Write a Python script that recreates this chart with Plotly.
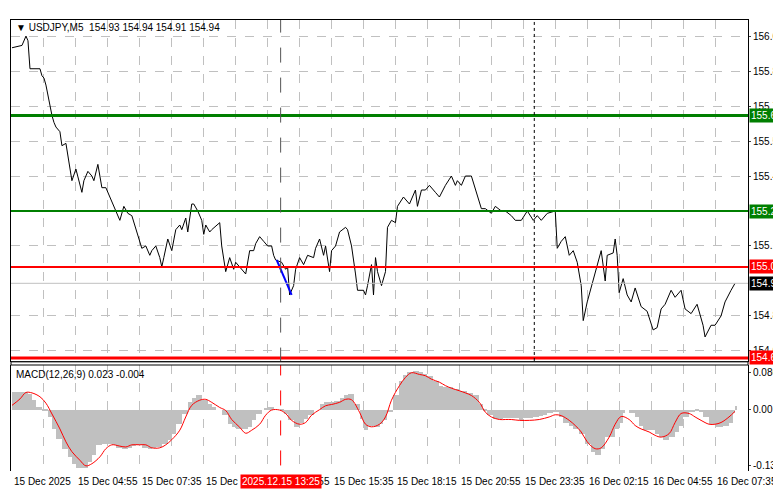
import numpy as np
import plotly.graph_objects as go

# ---- data ----
price_bar = [0,4,5,7,8,9,14,15,16,17,19,20,21,22,24,25,27,29,30,32,33,35,36,38,40,41,43,45,47,50,52,54,56,58,60,64,65,67,69,70,72,74,75,76,78,80,82,84,85,87,88,90,91,93,95,96,97,99,100,104,105,107,109,111,112,114,117,119,121,122,124,126,128,130,131,132,135,137,138,139,141,142,144,146,148,151,152,154,156,157,159,160,162,164,167,168,170,172,173,176,177,178,180,181,182,183,185,187,188,190,192,193,196,199,202,203,205,207,209,212,214,217,220,222,223,225,227,230,232,235,237,240,242,245,247,250,252,255,258,261,263,265,268,272,273,275,277,279,281,283,285,286,288,291,293,295,297,298,301,302,303,304,306,308,310,312,315,318,321,323,325,327,330,332,335,337,340,343,346,347,350,352,355,357,360,362]
price_val = [155.95,155.96,155.96,156.00,155.98,155.86,155.86,155.83,155.82,155.79,155.70,155.66,155.63,155.61,155.59,155.53,155.54,155.43,155.38,155.43,155.40,155.33,155.38,155.42,155.40,155.38,155.45,155.35,155.35,155.29,155.25,155.21,155.27,155.24,155.23,155.12,155.09,155.10,155.06,155.08,155.10,155.05,155.01,155.05,155.13,155.08,155.17,155.19,155.17,155.22,155.16,155.28,155.28,155.25,155.21,155.15,155.19,155.16,155.17,155.20,155.10,154.99,155.05,155.00,155.03,155.01,154.98,155.08,155.08,155.11,155.14,155.12,155.10,155.10,155.06,155.04,155.03,155.00,155.01,154.89,154.93,155.00,155.05,155.02,155.06,155.05,155.09,155.13,155.06,155.10,154.99,155.08,155.10,155.16,155.18,155.17,155.10,154.98,154.91,154.91,154.89,154.93,155.02,154.89,155.05,154.99,154.93,154.99,155.18,155.21,155.20,155.27,155.31,155.28,155.34,155.27,155.34,155.34,155.36,155.33,155.31,155.36,155.40,155.36,155.38,155.36,155.40,155.40,155.34,155.26,155.26,155.24,155.27,155.25,155.25,155.23,155.21,155.21,155.25,155.21,155.23,155.21,155.24,155.25,155.09,155.12,155.14,155.06,155.08,155.03,154.93,154.78,154.86,154.95,155.01,155.08,154.95,155.06,155.07,155.13,155.06,154.90,154.96,154.89,154.86,154.92,154.84,154.82,154.74,154.75,154.83,154.85,154.91,154.88,154.91,154.83,154.81,154.85,154.76,154.71,154.76,154.76,154.80,154.86,154.91,154.94]

hist_bar = [0,2,5,8,10,12,15,18,20,22,25,28,30,32,35,38,40,42,45,48,50,52,55,58,60,62,65,68,70,72,75,78,80,82,85,88,90,92,95,98,100,102,105,108,110,112,115,118,120,122,125,126,128,131,134,136,138,141,144,146,148,151,154,156,158,161,164,166,168,171,174,176,178,181,184,186,188,191,194,196,198,201,204,206,208,211,214,216,218,221,224,226,228,231,234,236,238,241,244,246,248,251,254,256,258,261,264,266,268,271,274,276,279,281,284,287,290,292,295,297,302,304,306,307,309,312,314,316,319,322,324,326,329,332,334,336,339,342,344,346,349,352,354,356,359,361,362]
hist_val = [0.040,0.041,0.042,0.036,0.022,0.005,-0.002,-0.018,-0.045,-0.068,-0.091,-0.110,-0.126,-0.137,-0.137,-0.121,-0.105,-0.082,-0.080,-0.080,-0.082,-0.089,-0.091,-0.089,-0.085,-0.082,-0.089,-0.092,-0.089,-0.087,-0.080,-0.070,-0.056,-0.034,-0.011,0.017,0.028,0.033,0.022,0.013,0.005,0.0,-0.013,-0.034,-0.041,-0.045,-0.045,-0.041,-0.025,-0.011,0.0,0.002,0.005,0.0,-0.002,-0.011,-0.025,-0.041,-0.030,-0.023,-0.013,0.0,0.013,0.017,0.017,0.019,0.026,0.035,0.036,0.013,-0.023,-0.048,-0.037,-0.041,-0.034,-0.025,-0.006,0.033,0.067,0.081,0.088,0.090,0.087,0.082,0.079,0.067,0.056,0.052,0.052,0.048,0.044,0.043,0.039,0.033,0.013,-0.002,-0.013,-0.023,-0.023,-0.020,-0.020,-0.020,-0.025,-0.020,-0.020,-0.017,-0.016,-0.013,-0.009,-0.006,-0.017,-0.030,-0.037,-0.045,-0.056,-0.080,-0.098,-0.106,-0.091,-0.064,-0.045,-0.030,-0.009,0.0,-0.009,-0.017,-0.037,-0.048,-0.048,-0.056,-0.064,-0.071,-0.064,-0.052,-0.037,-0.017,-0.006,-0.002,-0.006,-0.017,-0.034,-0.041,-0.041,-0.037,-0.030,-0.009,0.009,0.023]
hist_val = hist_val[:len(hist_bar)]

sig_bar = [0,4,7,10,14,17,20,24,27,30,34,37,40,44,47,50,54,57,60,64,67,70,74,77,80,84,87,90,94,97,100,104,107,110,114,117,120,124,127,130,134,137,140,144,147,150,154,157,160,164,167,170,174,177,180,184,187,190,194,197,200,204,207,210,214,217,220,224,227,230,234,237,240,244,247,250,254,259,264,269,272,275,279,282,285,288,292,295,299,302,305,309,312,315,319,322,325,329,332,335,339,342,345,349,352,355,359,362]
sig_val = [0.010,0.025,0.040,0.039,0.030,0.015,-0.010,-0.045,-0.075,-0.098,-0.118,-0.131,-0.126,-0.110,-0.091,-0.082,-0.085,-0.087,-0.082,-0.082,-0.082,-0.089,-0.089,-0.082,-0.070,-0.048,-0.017,0.010,0.022,0.024,0.017,0.005,-0.002,-0.023,-0.041,-0.055,-0.048,-0.034,-0.013,-0.001,-0.001,-0.009,-0.025,-0.034,-0.030,-0.013,0.0,0.009,0.012,0.017,0.024,0.023,-0.006,-0.034,-0.040,-0.034,-0.017,0.022,0.056,0.075,0.086,0.082,0.079,0.071,0.064,0.056,0.050,0.044,0.039,0.033,0.017,-0.006,-0.017,-0.023,-0.023,-0.023,-0.025,-0.025,-0.023,-0.017,-0.012,-0.014,-0.025,-0.037,-0.052,-0.075,-0.091,-0.089,-0.064,-0.034,-0.016,-0.023,-0.037,-0.045,-0.052,-0.060,-0.064,-0.056,-0.030,-0.009,-0.009,-0.017,-0.025,-0.034,-0.034,-0.030,-0.017,-0.004]
sig_val = sig_val[:len(sig_bar)]

time_ticks = [0,32,64,96,128,160,192,224,256,288,320,352]
time_labels = ["15 Dec 2025","15 Dec 04:55","15 Dec 07:35","15 Dec 10:15","15 Dec 12:55","15 Dec 15:35",
               "15 Dec 18:15","15 Dec 20:55","15 Dec 23:35","16 Dec 02:15","16 Dec 04:55","16 Dec 07:35"]
price_ticks = [156.00,155.85,155.70,155.55,155.40,155.10,154.80,154.65]
macd_ticks = [0.086,0.0,-0.131]
levels = [(155.66,"#007f00",3),(155.25,"#007f00",2),(155.01,"#ff0000",2),(154.62,"#ff0000",3)]
last_price = 154.94
cursor_bar = 134.5
cursor_label = "2025.12.15 13:25"
session_bar = 261.5
trend_bar = [132.5,140]
trend_val = [155.04,154.89]

FONT = "Liberation Sans"
FS = 10
fig = go.Figure()
fig.add_trace(go.Scatter(x=price_bar, y=price_val, mode="lines", line=dict(color="black", width=1), yaxis="y", hoverinfo="skip"))
fig.add_trace(go.Scatter(x=trend_bar, y=trend_val, mode="lines", line=dict(color="#0000ff", width=2), yaxis="y"))
w = np.diff(hist_bar + [hist_bar[-1] + 1]).astype(float)
fig.add_trace(go.Bar(x=np.array(hist_bar) + w / 2, y=hist_val, width=w, marker=dict(color="#c0c0c0", line=dict(width=0)), yaxis="y2", xaxis="x"))
fig.add_trace(go.Scatter(x=sig_bar, y=sig_val, mode="lines", line=dict(color="#ff0000", width=1), yaxis="y2", line_shape="spline"))

shapes = []
for lv, col, wd in levels:
    shapes.append(dict(type="line", xref="paper", x0=0, x1=1, yref="y", y0=lv, y1=lv, line=dict(color=col, width=wd)))
shapes.append(dict(type="line", xref="paper", x0=0, x1=1, yref="y", y0=last_price, y1=last_price, line=dict(color="#c0c0c0", width=1)))
shapes.append(dict(type="line", xref="x", x0=cursor_bar, x1=cursor_bar, yref="y", y0=154.6, y1=156.1, line=dict(color="#555555", width=1, dash="longdash")))
shapes.append(dict(type="line", xref="x", x0=cursor_bar, x1=cursor_bar, yref="y2", y0=-0.2, y1=0.2, line=dict(color="#ff0000", width=1, dash="longdash")))
shapes.append(dict(type="line", xref="x", x0=session_bar, x1=session_bar, yref="paper", y0=0.244, y1=1, line=dict(color="#000000", width=1, dash="dot")))
shapes.append(dict(type="rect", xref="paper", x0=0, x1=1, yref="paper", y0=0.235, y1=0.242, fillcolor="white", line=dict(color="black", width=1)))

ann = []
for lv, col, wd in levels:
    ann.append(dict(xref="paper", x=1, xanchor="left", yref="y", y=lv, text=f"{lv:.2f}", showarrow=False,
                    bgcolor=col, font=dict(color="white", size=FS, family=FONT), borderpad=1, xshift=1))
ann.append(dict(xref="paper", x=1, xanchor="left", yref="y", y=last_price, text=f"{last_price:.2f}", showarrow=False,
                bgcolor="black", font=dict(color="white", size=FS, family=FONT), borderpad=1, xshift=1))
for tv, tl in zip(time_ticks, time_labels):
    ann.append(dict(xref="x", x=tv, xanchor="left", yref="paper", y=0, yanchor="top", yshift=-3, text=tl,
                    showarrow=False, font=dict(color="black", size=FS, family=FONT)))
ann.append(dict(xref="x", x=cursor_bar, xanchor="center", yref="paper", y=0, yanchor="top", yshift=-3, text=cursor_label,
                showarrow=False, bgcolor="#ff0000", font=dict(color="white", size=FS, family=FONT)))
ann.append(dict(xref="paper", x=0, xanchor="left", yref="paper", y=1, yanchor="top", xshift=3, yshift=0,
                text="▼ USDJPY,M5  154.93 154.94 154.91 154.94", showarrow=False, font=dict(color="black", size=FS, family=FONT)))
ann.append(dict(xref="paper", x=0, xanchor="left", yref="paper", y=0.235, yanchor="top", xshift=3, yshift=-2,
                text="MACD(12,26,9) 0.023 -0.004", showarrow=False, font=dict(color="black", size=FS, family=FONT)))

grid = dict(showgrid=True, gridcolor="#c0c0c0", griddash="dash", gridwidth=1)
fig.update_layout(
    width=781, height=489, margin=dict(l=3, r=41, t=12, b=26),
    paper_bgcolor="white", plot_bgcolor="white", showlegend=False, bargap=0,
    font=dict(family=FONT, size=FS, color="black"),
    xaxis=dict(range=[-0.5, 368.5], tickvals=list(np.arange(0, 369, 16)), showticklabels=False,
               showline=True, linecolor="black", mirror=True, ticks="", zeroline=False, **grid),
    yaxis=dict(domain=[0.244, 1], range=[154.607, 156.069], side="right", tickvals=price_ticks,
               ticktext=[f"{v:.2f}" for v in price_ticks], showline=True, linecolor="black", mirror=True,
               ticks="outside", ticklen=2, zeroline=False, **grid),
    yaxis2=dict(domain=[0, 0.235], range=[-0.143, 0.104], side="right", tickvals=macd_ticks,
                ticktext=["0.086", "0.00", "-0.131"], showline=True, linecolor="black", mirror=True,
                ticks="outside", ticklen=2, showgrid=False, zeroline=False),
    shapes=shapes, annotations=ann,
)
fig.write_html("out.html")
